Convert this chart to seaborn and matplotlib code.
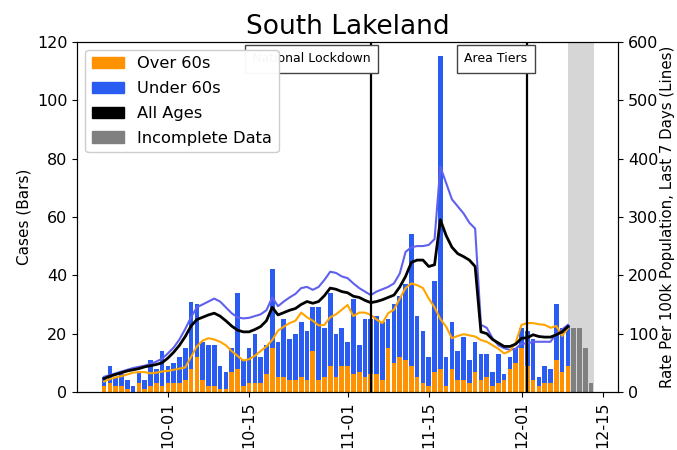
import pandas as pd
import numpy as np
import matplotlib
matplotlib.use("Agg")
import matplotlib.pyplot as plt
import matplotlib.dates as mdates
from matplotlib.patches import Patch
import seaborn as sns

# --- data ---
AREA = "South Lakeland"
START_DATE = "2020-09-20"

# daily cases, complete days (Sep 20 - Dec 9)
over60 = [2, 3, 2, 2, 1, 0, 3, 1, 2, 3, 2, 3, 3, 3, 4, 8, 12, 4, 2, 2,
          1, 1, 7, 8, 2, 3, 3, 3, 6, 15, 5, 5, 4, 4, 5, 4, 14, 4, 5, 9,
          5, 9, 9, 6, 7, 5, 6, 6, 4, 15, 10, 12, 11, 9, 5, 3, 2, 7, 8, 2,
          8, 4, 4, 3, 7, 4, 5, 2, 3, 4, 8, 10, 15, 9, 4, 2, 3, 3, 11, 7, 9]
under60 = [3, 6, 3, 4, 3, 2, 4, 3, 9, 5, 12, 6, 7, 9, 11, 23, 18, 13, 14, 14,
           8, 6, 8, 26, 9, 12, 17, 9, 10, 27, 12, 20, 14, 16, 19, 17, 15, 25, 17, 25,
           15, 13, 8, 26, 9, 20, 19, 20, 20, 10, 20, 21, 26, 45, 21, 18, 10, 31, 107, 10,
           16, 10, 15, 8, 10, 9, 8, 5, 10, 2, 4, 5, 7, 12, 14, 3, 6, 5, 19, 15, 14]
# last days, incomplete (Dec 10 - Dec 13)
incomplete = [22, 22, 15, 3]

# rate per 100k, last 7 days
rate_all = [23, 27, 30, 33, 36, 38, 40, 43, 45, 47, 50, 58, 68, 80, 95, 113, 124, 128, 132, 135,
            130, 122, 113, 106, 103, 103, 107, 112, 122, 145, 132, 136, 140, 143, 150, 155, 152, 155, 165, 178,
            176, 172, 170, 164, 162, 157, 153, 155, 158, 162, 166, 180, 198, 222, 226, 226, 215, 218, 295, 268,
            248, 237, 232, 226, 215, 103, 100, 90, 84, 78, 78, 82, 92, 93, 98, 95, 94, 94, 98, 103, 112]
rate_under = [26, 29, 32, 35, 38, 41, 43, 45, 48, 52, 57, 66, 76, 90, 108, 128, 145, 150, 155, 160,
              155, 145, 135, 128, 126, 127, 130, 133, 140, 162, 147, 155, 162, 168, 178, 180, 175, 180, 192, 206,
              204, 198, 195, 186, 178, 172, 166, 172, 176, 180, 186, 203, 240, 248, 250, 250, 252, 262, 386, 358,
              330, 318, 306, 290, 280, 115, 110, 92, 80, 75, 72, 74, 83, 83, 86, 86, 86, 86, 100, 107, 115]
rate_over = [18, 22, 25, 27, 30, 33, 34, 34, 32, 33, 35, 36, 38, 40, 42, 60, 78, 88, 92, 90,
             86, 80, 70, 62, 54, 56, 62, 70, 78, 89, 105, 112, 118, 122, 136, 128, 122, 114, 115, 128,
             133, 141, 149, 130, 136, 136, 132, 124, 118, 135, 141, 160, 178, 186, 183, 178, 160, 145, 125, 112,
             92, 96, 99, 97, 95, 89, 86, 80, 74, 66, 70, 85, 115, 118, 118, 116, 115, 110, 113, 96, 109]

events = ["2020-11-05", "2020-12-02"]
event_labels = ["National Lockdown", "Area Tiers"]

ORANGE = "#ff9200"
BLUE = "#2b5cf2"
GREY = "#808080"

dates = pd.date_range(START_DATE, periods=len(over60))
inc_dates = pd.date_range(dates[-1] + pd.Timedelta(days=1), periods=len(incomplete))

fig, ax1 = plt.subplots(figsize=(6.77, 4.5), dpi=100)
fig.subplots_adjust(left=0.114, right=0.913, bottom=0.129, top=0.907)
ax2 = ax1.twinx()

# shaded band for incomplete data
ax1.axvspan(dates[-1] + pd.Timedelta(hours=2), inc_dates[-1] + pd.Timedelta(hours=10),
            color="#bbbbbb", alpha=0.6, lw=0, zorder=0)

# stacked bars
ax1.bar(dates, over60, width=0.8, color=ORANGE, zorder=2)
ax1.bar(dates, under60, width=0.8, bottom=over60, color=BLUE, zorder=2)
ax1.bar(inc_dates, incomplete, width=0.8, color=GREY, zorder=2)

# rate lines
sns.lineplot(x=dates, y=rate_under, ax=ax2, color="#6060ee", lw=1.5)
sns.lineplot(x=dates, y=rate_over, ax=ax2, color="orange", lw=1.5)
sns.lineplot(x=dates, y=rate_all, ax=ax2, color="black", lw=2)

# events
for d, lab in zip(events, event_labels):
    d = pd.Timestamp(d)
    ax2.axvline(d, color="black", lw=1.6)
    ax2.text(d, 0.97, lab, transform=ax2.get_xaxis_transform(), ha="right", va="top",
             fontsize=9, bbox=dict(boxstyle="square,pad=0.6", facecolor="white", edgecolor="#444444"))

ax1.set_ylim(0, 120)
ax2.set_ylim(0, 600)
ax1.set_ylabel("Cases (Bars)", fontsize=11)
ax2.set_ylabel("Rate Per 100k Population, Last 7 Days (Lines)", fontsize=10.8, labelpad=1)
ax1.set_title(AREA, fontsize=19)
ax1.tick_params(labelsize=11.5)
ax2.tick_params(labelsize=11.5)

ax1.xaxis.set_major_locator(mdates.DayLocator(bymonthday=[1, 15]))
ax1.xaxis.set_major_formatter(mdates.DateFormatter("%m-%d"))
for lab in ax1.get_xticklabels():
    lab.set_rotation(90)

handles = [Patch(color=ORANGE, label="Over 60s"),
           Patch(color=BLUE, label="Under 60s"),
           Patch(color="black", label="All Ages"),
           Patch(color=GREY, label="Incomplete Data")]
ax2.legend(handles=handles, loc="upper left", fontsize=11.7, labelspacing=0.6, framealpha=0.97)

plt.savefig("out.png", dpi=100)
plt.close(fig)
